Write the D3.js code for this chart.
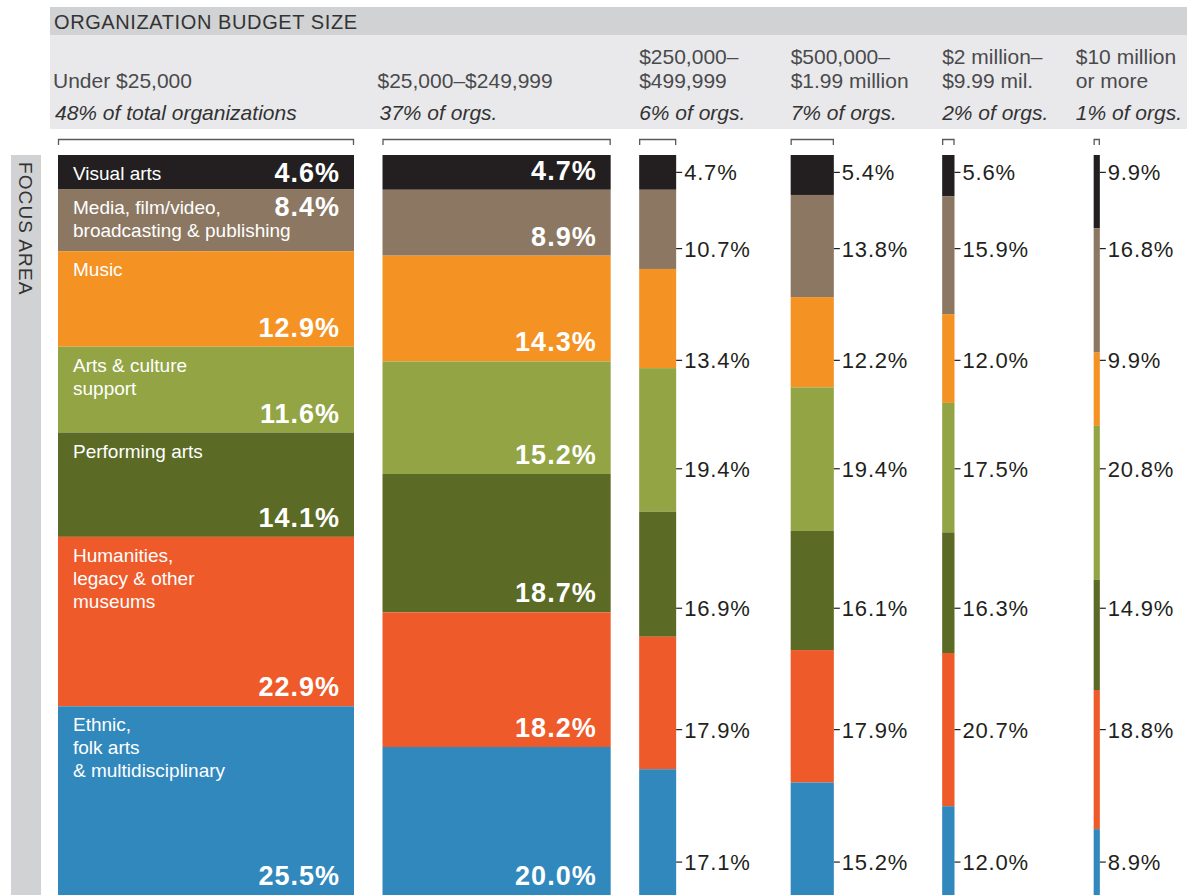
<!DOCTYPE html>
<html>
<head>
<meta charset="utf-8">
<script src="https://cdn.jsdelivr.net/npm/d3@7"></script>
<style>
  body { margin: 0; background: #fff; }
  svg { display: block; font-family: "Liberation Sans", Arial, sans-serif; }
</style>
</head>
<body>
<div id="chart"></div>
<script>
// focus areas, top of the stack first
const categories = ["Visual arts", "Media, film/video, broadcasting & publishing", "Music",
  "Arts & culture support", "Performing arts", "Humanities, legacy & other museums",
  "Ethnic, folk arts & multidisciplinary"];
const categoryLines = [["Visual arts"], ["Media, film/video,", "broadcasting & publishing"], ["Music"],
  ["Arts & culture", "support"], ["Performing arts"], ["Humanities,", "legacy & other", "museums"],
  ["Ethnic,", "folk arts", "& multidisciplinary"]];

// budget size groups
const budgetSizes = ["Under $25,000", "$25,000–$249,999", "$250,000–$499,999",
  "$500,000–$1.99 million", "$2 million–$9.99 mil.", "$10 million or more"];
const budgetLines = [["Under $25,000"], ["$25,000–$249,999"], ["$250,000–", "$499,999"],
  ["$500,000–", "$1.99 million"], ["$2 million–", "$9.99 mil."], ["$10 million", "or more"]];
const shareLabels = ["48% of total organizations", "37% of orgs.", "6% of orgs.",
  "7% of orgs.", "2% of orgs.", "1% of orgs."];
const orgShare = [48, 37, 6, 7, 2, 1];

// percent of each budget group in each focus area
const under25k   = [4.6, 8.4, 12.9, 11.6, 14.1, 22.9, 25.5];
const to250k     = [4.7, 8.9, 14.3, 15.2, 18.7, 18.2, 20.0];
const to500k     = [4.7, 10.7, 13.4, 19.4, 16.9, 17.9, 17.1];
const to2m       = [5.4, 13.8, 12.2, 19.4, 16.1, 17.9, 15.2];
const to10m      = [5.6, 15.9, 12.0, 17.5, 16.3, 20.7, 12.0];
const over10m    = [9.9, 16.8, 9.9, 20.8, 14.9, 18.8, 8.9];
const groupValues = [under25k, to250k, to500k, to2m, to10m, over10m];

const width = 1187, height = 895;
const svg = d3.select("#chart").append("svg")
    .attr("width", width)
    .attr("height", height);

const color = d3.scaleOrdinal()
    .domain(categories)
    .range(["#231f20", "#8c7862", "#f49223", "#93a445", "#5b6a24", "#ee5a29", "#3188bd"]);

// table for the stack
const table = budgetSizes.map((b, i) => {
    const row = { budget: b, share: orgShare[i], index: i };
    categories.forEach((c, k) => row[c] = groupValues[i][k]);
    return row;
});
const series = d3.stack().keys(categories)(table);

const yScale = d3.scaleLinear().domain([0, 100]).range([155, 895]);
const wScale = d3.scaleLinear().domain([0, 48]).range([0, 296]);

// columns placed one after another, narrow ones get a fixed slot for their labels
const colX = [];
let cx = 58;
table.forEach(d => {
    colX.push(cx);
    cx += Math.max(wScale(d.share) + 28.5, 151.5);
});

// header bands
svg.append("rect").attr("x", 50).attr("y", 7).attr("width", width - 50).attr("height", 28).attr("fill", "#d1d2d4");
svg.append("rect").attr("x", 50).attr("y", 35).attr("width", width - 50).attr("height", 94).attr("fill", "#e9e9eb");
svg.append("text")
    .attr("x", 54).attr("y", 29)
    .attr("font-size", 20).attr("letter-spacing", 0.6)
    .attr("fill", "#333")
    .text("ORGANIZATION BUDGET SIZE");

// focus area side bar
svg.append("rect").attr("x", 11).attr("y", 155).attr("width", 30).attr("height", height - 155).attr("fill", "#d1d2d4");
svg.append("text")
    .attr("transform", "translate(19,162) rotate(90)")
    .attr("font-size", 19).attr("letter-spacing", 1.1)
    .attr("fill", "#333")
    .text("FOCUS AREA");

// column headers
const heads = svg.selectAll("g.head")
    .data(table)
    .join("g")
    .attr("class", "head");

heads.each(function(d, i) {
    const g = d3.select(this);
    const lines = budgetLines[i];
    const t = g.append("text").attr("font-size", 21).attr("fill", "#4a4a4c");
    lines.forEach((l, j) => {
        t.append("tspan")
            .attr("y", 88 - (lines.length - 1 - j) * 24)
            .text(l);
    });
    const s = g.append("text")
        .attr("y", 120)
        .attr("font-size", 21)
        .attr("font-style", "italic")
        .attr("fill", "#333")
        .text(shareLabels[i]);
    const wide = i < 2;
    let x = wide ? colX[i] - 5 : colX[i];
    let textW = s.node().getComputedTextLength();
    t.selectAll("tspan").each(function() {
        textW = Math.max(textW, this.getComputedTextLength());
    });
    x = Math.min(x, width - 5 - textW);
    t.selectAll("tspan").attr("x", x);
    s.attr("x", x + (wide ? 2 : 0));
});

// brackets above the columns
svg.selectAll("path.bracket")
    .data(table)
    .join("path")
    .attr("class", "bracket")
    .attr("d", (d, i) => {
        const x0 = colX[i] + 0.5, x1 = colX[i] + wScale(d.share) - 0.5;
        return `M${x0},145V139.5H${x1}V145`;
    })
    .attr("fill", "none")
    .attr("stroke", "#58595b")
    .attr("stroke-width", 1.3);

// stacked segments
const layers = svg.selectAll("g.layer")
    .data(series)
    .join("g")
    .attr("class", "layer")
    .attr("fill", d => color(d.key));

layers.selectAll("rect")
    .data(d => d)
    .join("rect")
    .attr("x", d => colX[d.data.index])
    .attr("y", d => yScale(d[0]))
    .attr("width", d => wScale(d.data.share))
    .attr("height", d => yScale(d[1]) - yScale(d[0]));

// labels inside the two wide columns
const lineH = 23;
series.forEach((s, k) => {
    s.forEach(d => {
        const i = d.data.index;
        if (i > 1) return;
        const top = yScale(d[0]), bottom = yScale(d[1]);
        const right = colX[i] + wScale(d.data.share);
        let pctY = bottom - 10;
        if (i === 0) {
            const lines = categoryLines[k];
            const t = svg.append("text")
                .attr("font-size", 19)
                .attr("fill", "#fff");
            lines.forEach((l, j) => {
                t.append("tspan")
                    .attr("x", colX[i] + 15)
                    .attr("y", top + 25 + j * lineH)
                    .text(l);
            });
            if (bottom - top < lines.length * lineH + 30) pctY = top + 27;
        }
        svg.append("text")
            .attr("x", right - 14)
            .attr("y", pctY)
            .attr("text-anchor", "end")
            .attr("font-size", 27)
            .attr("font-weight", "bold")
            .attr("letter-spacing", 1)
            .attr("fill", "#fff")
            .text(d.data[s.key].toFixed(1) + "%");
    });
});

// labels beside the narrow columns sit on shared rows,
// in the middle of the range every narrow segment of that focus area covers
const rowY = series.map(s => {
    const lo = d3.max(s.filter(d => d.data.index > 1), d => d[0]);
    const hi = d3.min(s.filter(d => d.data.index > 1), d => d[1]);
    return yScale((lo + hi) / 2);
});

series.forEach((s, k) => {
    s.filter(d => d.data.index > 1).forEach(d => {
        const i = d.data.index;
        const right = colX[i] + wScale(d.data.share);
        svg.append("line")
            .attr("x1", right).attr("x2", right + 6)
            .attr("y1", rowY[k]).attr("y2", rowY[k])
            .attr("stroke", "#231f20")
            .attr("stroke-width", 1.2);
        svg.append("text")
            .attr("x", right + 8)
            .attr("y", rowY[k])
            .attr("dy", "0.36em")
            .attr("font-size", 22)
            .attr("letter-spacing", 0.8)
            .attr("fill", "#231f20")
            .text(d.data[s.key].toFixed(1) + "%");
    });
});
</script>
</body>
</html>
